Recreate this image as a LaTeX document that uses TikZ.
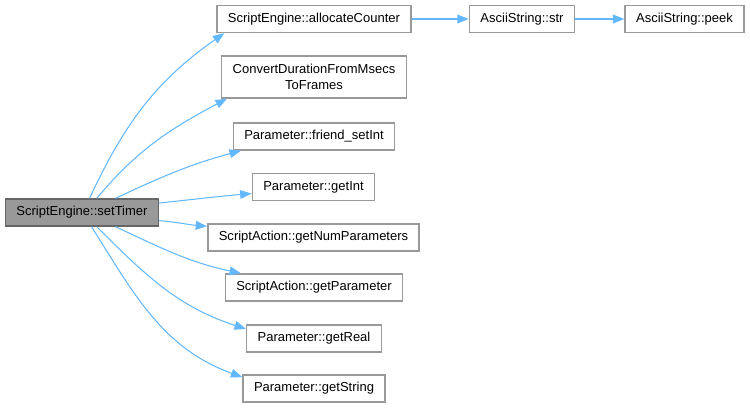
\documentclass[tikz,border=0pt]{standalone}
\usepackage{fontspec}
\setmainfont{Liberation Sans}
\usetikzlibrary{arrows.meta}
\definecolor{edgeblue}{HTML}{63B8FF}
\definecolor{boxline}{HTML}{999999}
\definecolor{curline}{HTML}{666666}
\begin{document}
\begin{tikzpicture}[
    fn/.style={draw=boxline,fill=white,line width=0.8pt,font=\fontsize{7.4}{9}\selectfont,
        inner xsep=0.22cm,inner ysep=0pt,minimum height=0.54cm,align=center},
    cur/.style={fn,draw=curline,fill=boxline},
    call/.style={draw=edgeblue,line width=0.6pt,-{Triangle[length=6.5pt,width=5pt]}}
]
\useasboundingbox (0,0) rectangle (15,-8.16);

% caller
\node[cur] (setTimer) at (1.64,-4.25) {ScriptEngine::setTimer};

% callees
\node[fn] (allocCounter) at (6.28,-0.38) {ScriptEngine::allocateCounter};
\node[fn,minimum height=0.84cm] (convDuration) at (6.28,-1.54) {ConvertDurationFromMsecs\\ToFrames};
\node[fn] (friendSetInt) at (6.28,-2.73) {Parameter::friend\_setInt};
\node[fn] (getInt) at (6.27,-3.74) {Parameter::getInt};
\node[fn] (getNumParams) at (6.27,-4.75) {ScriptAction::getNumParameters};
\node[fn] (getParam) at (6.28,-5.75) {ScriptAction::getParameter};
\node[fn] (getReal) at (6.28,-6.77) {Parameter::getReal};
\node[fn] (getString) at (6.28,-7.77) {Parameter::getString};
\node[fn] (asciiStr) at (10.44,-0.38) {AsciiString::str};
\node[fn] (asciiPeek) at (13.69,-0.38) {AsciiString::peek};

% calls
\draw[call] (setTimer.62) to[out=65,in=215] (allocCounter.189);
\draw[call] (setTimer.44) to[out=50,in=208] (convDuration.194);
\draw[call] (setTimer.23) to[out=25,in=195] (friendSetInt.191);
\draw[call] (setTimer.7) to[out=6,in=185] (getInt.186);
\draw[call] (setTimer.-6) to[out=-5,in=175] (getNumParams.174);
\draw[call] (setTimer.-23) to[out=-25,in=168] (getParam.169);
\draw[call] (setTimer.-44) to[out=-45,in=162] (getReal.172);
\draw[call] (setTimer.-56) to[out=-58,in=160] (getString.171);
\draw[call] (allocCounter) -- (asciiStr);
\draw[call] (asciiStr) -- (asciiPeek);

\end{tikzpicture}
\end{document}
